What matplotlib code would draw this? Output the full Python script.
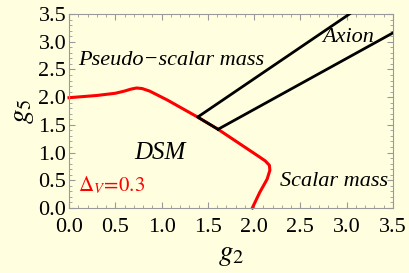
import matplotlib
matplotlib.use("Agg")
import matplotlib.pyplot as plt
from matplotlib.ticker import MultipleLocator

# Data
red_x = [0.0, 0.3, 0.5, 0.6, 0.67, 0.73, 0.79, 0.87, 1.06, 1.39, 1.61, 2.05, 2.12, 2.165, 2.17, 2.14, 2.06, 1.98]
red_y = [1.99, 2.03, 2.07, 2.11, 2.145, 2.165, 2.155, 2.11, 1.95, 1.64, 1.42, 0.93, 0.85, 0.77, 0.68, 0.52, 0.28, 0.0]
upper_x = [1.61, 1.39, 3.03]
upper_y = [1.42, 1.64, 3.5]
lower_x = [1.61, 3.5]
lower_y = [1.42, 3.16]
xticks = [0.0, 0.5, 1.0, 1.5, 2.0, 2.5, 3.0, 3.5]
yticks = [0.0, 0.5, 1.0, 1.5, 2.0, 2.5, 3.0, 3.5]

plt.rcParams['mathtext.fontset'] = 'stix'
bg = '#FFFFE0'
fig = plt.figure(figsize=(4.09, 2.73), dpi=100, facecolor=bg)
ax = fig.add_axes([69/409, 65/273, (393-69)/409, (208-14)/273])
ax.set_facecolor(bg)

ax.plot(red_x, red_y, color='#FF0000', lw=2.2, solid_joinstyle='round', clip_on=False, zorder=2)
ax.plot(upper_x, upper_y, color='black', lw=2.0, zorder=3)
ax.plot(lower_x, lower_y, color='black', lw=2.0, zorder=3)

ax.set_xlim(0, 3.5)
ax.set_ylim(0, 3.5)
ax.set_xticks(xticks)
ax.set_yticks(yticks)
ax.set_xticklabels([f"{v:.1f}" for v in xticks])
ax.set_yticklabels([f"{v:.1f}" for v in yticks])
ax.xaxis.set_minor_locator(MultipleLocator(0.1))
ax.yaxis.set_minor_locator(MultipleLocator(0.1))
ax.tick_params(which='both', direction='in', top=True, right=True, color='#999999')
ax.tick_params(which='major', length=4, width=0.8, labelsize=16)
ax.tick_params(axis='x', which='major', pad=7)
ax.tick_params(axis='y', which='major', pad=2)
ax.tick_params(which='minor', length=2, width=0.6)
for lab in ax.get_xticklabels() + ax.get_yticklabels():
    lab.set_fontfamily('Liberation Serif')
for s in ax.spines.values():
    s.set_color('#999999')
    s.set_linewidth(0.8)

ax.set_xlabel('$g_2$', fontsize=21, labelpad=2)
ax.set_ylabel('$g_5$', fontsize=21, labelpad=2)

tf = dict(family='Liberation Serif', style='italic', fontsize=16)
ax.text(0.1, 2.67, 'Pseudo\u2212scalar mass', va='center', ha='left', **tf)
ax.text(2.73, 3.07, 'Axion', va='center', ha='left', **tf)
ax.text(0.71, 0.99, 'DSM', va='center', ha='left', family='Liberation Serif', style='italic', fontsize=18)
ax.text(2.28, 0.47, 'Scalar mass', va='center', ha='left', **tf)
ax.text(0.1, 0.42, r'$\Delta_V\!=\!0.3$', va='center', ha='left', color='#FF0000', fontsize=15)

fig.savefig('out.png', dpi=100, facecolor=bg)
